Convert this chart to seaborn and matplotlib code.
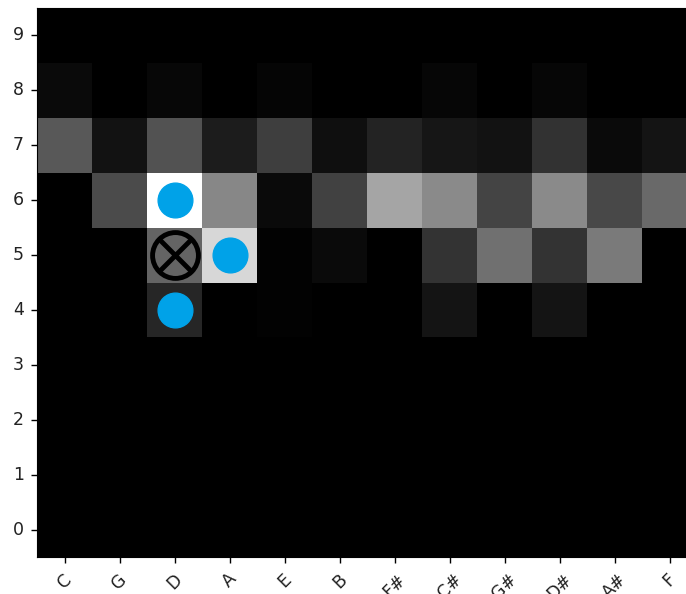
# Load libraries
import numpy as np
import pandas as pd
import matplotlib
matplotlib.use('Agg')
import matplotlib.pyplot as plt
import seaborn as sns

# Note names along the circle of fifths (columns) and octaves (rows)
notes = ['C', 'G', 'D', 'A', 'E', 'B', 'F#', 'C#', 'G#', 'D#', 'A#', 'F']
octaves = list(range(10))

# Brightness of each cell (0-255), one list per octave
oct_0 = [0, 0, 0, 0, 0, 0, 0, 0, 0, 0, 0, 0]
oct_1 = [0, 0, 0, 0, 0, 0, 0, 0, 0, 0, 0, 0]
oct_2 = [0, 0, 0, 0, 0, 0, 0, 0, 0, 0, 0, 0]
oct_3 = [0, 0, 0, 0, 0, 0, 0, 0, 0, 0, 0, 0]
oct_4 = [0, 0, 38, 0, 2, 0, 0, 20, 0, 20, 0, 0]
oct_5 = [0, 0, 100, 215, 2, 10, 0, 51, 112, 51, 122, 0]
oct_6 = [0, 75, 255, 135, 10, 65, 165, 138, 68, 138, 72, 105]
oct_7 = [88, 18, 82, 28, 62, 15, 35, 22, 18, 50, 10, 20]
oct_8 = [10, 0, 7, 0, 5, 0, 0, 6, 0, 6, 0, 0]
oct_9 = [0, 0, 0, 0, 0, 0, 0, 0, 0, 0, 0, 0]

# Highlighted notes: neighbours (blue dots) and the current note (crossed circle)
dot_notes = ['D', 'A', 'D']
dot_octaves = [6, 5, 4]
cur_note = ['D']
cur_octave = [5]

grid = pd.DataFrame([oct_0, oct_1, oct_2, oct_3, oct_4, oct_5, oct_6, oct_7, oct_8, oct_9],
                    index=octaves, columns=notes)

fig = plt.figure(figsize=(6.86, 5.94), dpi=100)
ax = fig.add_axes([37 / 686, 37 / 594, 660 / 686, 549 / 594])

sns.heatmap(grid, cmap='gray', vmin=0, vmax=255, cbar=False, ax=ax)
ax.invert_yaxis()

# Spines back on like a plain imshow
for s in ax.spines.values():
    s.set_visible(True)
    s.set_color('black')

ax.set_xlabel('')
ax.set_ylabel('')
ax.set_yticklabels([str(o) for o in octaves], rotation=0)
ax.set_xticklabels(notes, rotation=45, ha='center')
ax.tick_params(axis='both', labelsize=12.5, length=4.5, width=1.0, pad=5,
               labelcolor='#222222')

# Markers at the cell centres
dx = [notes.index(n) + 0.5 for n in dot_notes]
dy = [o + 0.5 for o in dot_octaves]
ax.plot(dx, dy, 'o', color='#00a2e8', markersize=25, linestyle='none')

cx = [notes.index(n) + 0.5 for n in cur_note]
cy = [o + 0.5 for o in cur_octave]
ax.plot(cx, cy, 'o', markerfacecolor='none', markeredgecolor='black',
        markeredgewidth=3.5, markersize=33, linestyle='none')
ax.plot(cx, cy, 'x', color='black', markeredgewidth=3.5, markersize=21, linestyle='none')

fig.savefig('out.png', dpi=100)
